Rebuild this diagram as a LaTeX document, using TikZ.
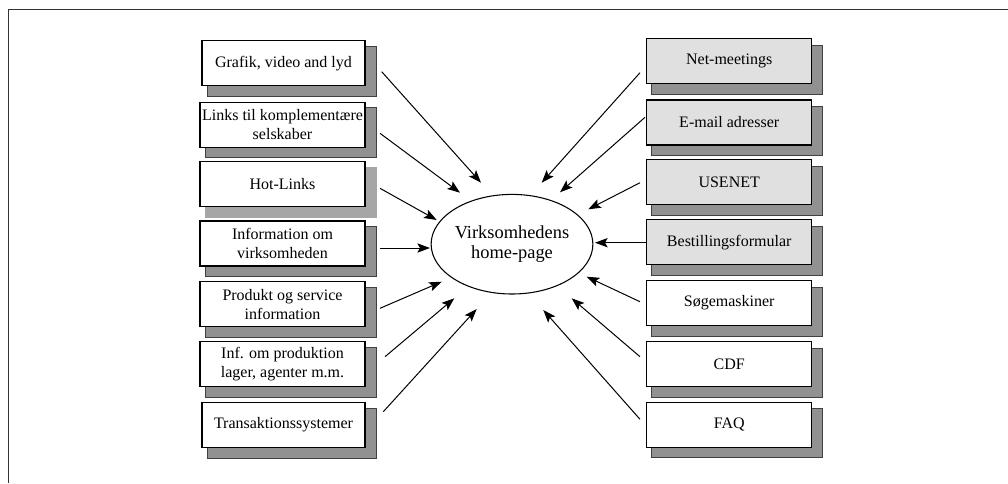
\documentclass[tikz,border=0pt]{standalone}
\usepackage{fontspec}
\setmainfont{Liberation Serif}
\usetikzlibrary{arrows.meta,shapes.geometric,backgrounds}

\begin{document}
\begin{tikzpicture}[x=0.75pt,y=-0.75pt,
  infobox/.style={draw=black,line width=0.8pt,fill=white,rectangle,inner sep=0pt,
    minimum width=123.75pt,minimum height=33.75pt,align=center,
    font=\fontsize{12}{14}\selectfont},
  greybox/.style={infobox,fill=black!12},
  shade/.style={fill=black!43,draw=black!75,line width=0.5pt},
  lightshade/.style={fill=black!35,draw=black!35,line width=0.5pt},
  hub/.style={draw=black,line width=0.8pt,ellipse,inner sep=0pt,
    minimum width=110.5pt,minimum height=74.7pt,align=center,
    font=\fontsize{13.8}{15}\selectfont},
  arr/.style={draw=black,line width=0.75pt,-{Stealth[length=9.5pt,width=7pt,inset=2pt]}}]

\useasboundingbox (0,0) rectangle (1008,483);

% open frame: left and top edges only
\draw[line width=1.1pt,black!80] (8.5,483) -- (8.5,9.5) -- (1008,9.5);

% left column
\node[infobox,minimum width=122.25pt] (l1) at (283.5,63.3) {Grafik, video and lyd};
\node[infobox] (l2) at (282.5,124.7) {\fontsize{12}{12.5}\selectfont Links til komplementære\\selskaber};
\node[infobox] (l3) at (282.5,184.2) {Hot-Links};
\node[infobox] (l4) at (282.5,243.5) {Information om\\virksomheden};
\node[infobox] (l5) at (282.5,304.2) {Produkt og service\\information};
\node[infobox] (l6) at (282.5,364.2) {Inf. om produktion\\lager, agenter m.m.};
\node[infobox,minimum width=122.25pt] (l7) at (283.5,425) {Transaktionssystemer};

% right column
\node[greybox] (r1) at (729.2,61.2) {Net-meetings};
\node[greybox] (r2) at (729.2,122.5) {E-mail adresser};
\node[greybox] (r3) at (729.2,182.2) {USENET};
\node[greybox] (r4) at (729.2,242.3) {Bestillingsformular};
\node[infobox] (r5) at (729.2,303) {Søgemaskiner};
\node[infobox] (r6) at (729.2,364.2) {CDF};
\node[infobox] (r7) at (729.2,424.7) {FAQ};

% centre
\node[hub] (home) at (512,244.2) {Virksomhedens\\home-page};

% shadows behind the boxes
\begin{scope}[on background layer]
  \foreach \b in {l1,l2,l4,l5,l6,l7}
    \draw[shade] ([shift={(6,6)}]\b.north west) rectangle ([shift={(11,10)}]\b.south east);
  \draw[lightshade] ([shift={(6,6)}]l3.north west) rectangle ([shift={(11,10)}]l3.south east);
  \foreach \b in {r1,r2,r3,r4,r5,r6,r7}
    \draw[shade] ([shift={(5,7)}]\b.north west) rectangle ([shift={(10,10)}]\b.south east);
\end{scope}

% arrow ends
\coordinate (l1o) at (381.7,71.7);  \coordinate (l1i) at (481,182.7);
\coordinate (l2o) at (380,133.3);   \coordinate (l2i) at (460,192.7);
\coordinate (l3o) at (380,188.3);   \coordinate (l3i) at (436.7,220);
\coordinate (l4o) at (380,248);     \coordinate (l4i) at (430,248);
\coordinate (l5o) at (380,308.3);   \coordinate (l5i) at (441.7,281.7);
\coordinate (l6o) at (385,356.7);   \coordinate (l6i) at (454.3,298.3);
\coordinate (l7o) at (383.3,411.7); \coordinate (l7i) at (476.7,309);
\coordinate (r1o) at (640,72.7);    \coordinate (r1i) at (541.7,182.7);
\coordinate (r2o) at (645,117.3);   \coordinate (r2i) at (560,192.3);
\coordinate (r3o) at (640,182.7);   \coordinate (r3i) at (588.3,209.3);
\coordinate (r4o) at (646,242.7);   \coordinate (r4i) at (595,242.7);
\coordinate (r5o) at (640,301.7);   \coordinate (r5i) at (586.7,276.7);
\coordinate (r6o) at (640,356.7);   \coordinate (r6i) at (571.7,298.3);
\coordinate (r7o) at (640,419.3);   \coordinate (r7i) at (543.3,310);

\foreach \a in {l1,l2,l3,l4,l5,l6,l7,r1,r2,r3,r4,r5,r6,r7}
  \draw[arr] (\a o) -- (\a i);

\end{tikzpicture}
\end{document}
